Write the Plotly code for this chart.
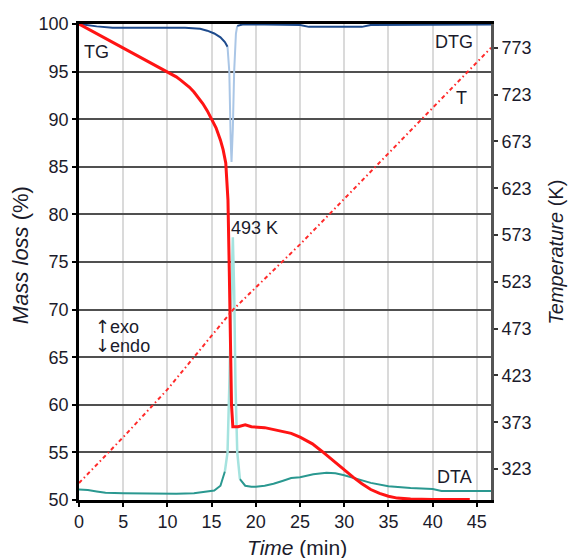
import numpy as np
import plotly.graph_objects as go

# ---- thermogravimetric data (time in min) ----
tg_time = [0, 0.5, 1, 2, 3, 4, 5, 6, 7, 8, 9, 10, 10.5, 11, 11.5, 12, 12.5, 13,
           13.5, 14, 14.5, 15, 15.5, 16, 16.3, 16.6, 16.85, 17.0, 17.1, 17.25,
           17.4, 18, 18.8, 19.5, 21, 22.7, 24, 25, 26.4, 27.5, 28.5, 30, 31, 32,
           33, 34, 35, 36, 37.5, 40, 44.2]
tg_mass = [100, 99.75, 99.5, 99.0, 98.5, 98.0, 97.5, 97.0, 96.5, 96.0, 95.5,
           95.0, 94.75, 94.45, 94.1, 93.75, 93.35, 92.85, 92.3, 91.65, 90.9,
           90.05, 89.1, 87.8, 86.8, 85.4, 81.5, 74, 66, 60, 57.7, 57.7, 57.9,
           57.7, 57.6, 57.3, 57.0, 56.6, 55.9, 55.1, 54.3, 53.2, 52.4, 51.7,
           51.1, 50.7, 50.4, 50.2, 50.1, 50.05, 50.05]

dtg_time = [0, 1, 2, 3.8, 8, 12, 13.7, 14.5, 15.3, 16, 16.5, 16.8, 17.0, 17.15,
            17.25, 17.4, 17.55, 17.75, 17.9, 18.5, 21, 25, 26, 32, 33, 40, 46.6]
dtg_value = [100, 99.85, 99.75, 99.6, 99.6, 99.6, 99.5, 99.3, 99.0, 98.6, 98.1,
             97.6, 95, 88, 85.5, 89, 95, 99, 99.8, 99.95, 99.95, 99.9, 99.7, 99.7,
             99.9, 99.95, 99.95]

dta_time = [0, 1, 2, 3, 5, 8, 11, 13, 14.5, 15.3, 16, 16.5, 16.8, 17.0, 17.2,
            17.4, 17.55, 17.7, 17.9, 18.2, 18.8, 19.5, 20, 21, 22, 23, 24, 25,
            26.5, 28, 29, 30, 31.4, 33, 35, 37.5, 40, 41, 43, 46.6]
dta_value = [51.1, 51.05, 50.9, 50.75, 50.7, 50.65, 50.65, 50.7, 50.85, 51.0,
             51.5, 53.0, 55, 62, 70, 77.6, 72, 62, 55, 52.2, 51.5, 51.4, 51.4,
             51.5, 51.7, 52.0, 52.3, 52.4, 52.7, 52.85, 52.8, 52.6, 52.2, 51.8,
             51.45, 51.25, 51.15, 50.95, 50.95, 50.95]

temp_time = [0, 5, 10, 17.4, 25, 35, 46.6]
temp_kelvin = [308, 357, 408, 493, 563, 660, 773]

mass_ticks = [50, 55, 60, 65, 70, 75, 80, 85, 90, 95, 100]
temp_ticks = [323, 373, 423, 473, 523, 573, 623, 673, 723, 773]
time_ticks = [0, 5, 10, 15, 20, 25, 30, 35, 40, 45]

FONT = "Liberation Sans, Arial, sans-serif"
INK = "#1b1b2b"


def split_peak(t, v, t0, t1):
    """Return (baseline, peak) copies of a curve; the steep peak part is drawn lighter."""
    t = np.asarray(t, float)
    v = np.asarray(v, float)
    inside = (t >= t0) & (t <= t1)
    base = v.copy()
    base[(t > t0) & (t < t1)] = np.nan
    return (t, base), (t[inside], v[inside])


fig = go.Figure()

# DTG (derivative) trace, baseline dark and the narrow peak pale
(dtg_bt, dtg_bv), (dtg_pt, dtg_pv) = split_peak(dtg_time, dtg_value, 16.8, 17.9)
fig.add_trace(go.Scatter(x=dtg_pt, y=dtg_pv, mode="lines",
                         line=dict(color="#aac6e6", width=2), hoverinfo="skip"))
fig.add_trace(go.Scatter(x=dtg_bt, y=dtg_bv, mode="lines", connectgaps=False,
                         line=dict(color="#1d4a8c", width=2), name="DTG"))

# DTA trace
(dta_bt, dta_bv), (dta_pt, dta_pv) = split_peak(dta_time, dta_value, 16.5, 18.2)
fig.add_trace(go.Scatter(x=dta_pt, y=dta_pv, mode="lines",
                         line=dict(color="#a5e3df", width=2.5), hoverinfo="skip"))
fig.add_trace(go.Scatter(x=dta_bt, y=dta_bv, mode="lines", connectgaps=False,
                         line=dict(color="#2a9890", width=2), name="DTA"))

# TG mass loss
fig.add_trace(go.Scatter(x=tg_time, y=tg_mass, mode="lines",
                         line=dict(color="#ff1414", width=3), name="TG"))

# furnace temperature on the right axis
fig.add_trace(go.Scatter(x=temp_time, y=temp_kelvin, mode="lines", yaxis="y2",
                         line=dict(color="#ff2a2a", width=2, dash="4px,3px,1.5px,3px"),
                         name="T"))

TICK = dict(size=18, color=INK)
fig.update_layout(
    width=569, height=558,
    margin=dict(l=79, r=78, t=24, b=58),
    paper_bgcolor="white", plot_bgcolor="white",
    showlegend=False,
    font=dict(family=FONT, size=18, color=INK),
    xaxis=dict(range=[0, 46.6], tickvals=time_ticks, ticks="outside", ticklen=4,
               tickwidth=1.5, tickcolor="black", showline=True, linecolor="black",
               linewidth=2.5, mirror=True, showgrid=True, gridcolor="#dadada",
               gridwidth=2, zeroline=False, tickfont=TICK),
    yaxis=dict(range=[50, 100], tickvals=mass_ticks, ticks="outside", ticklen=4,
               tickwidth=1.5, tickcolor="black", showline=True, linecolor="black",
               linewidth=2.5, showgrid=True, gridcolor="#505050", gridwidth=1.5,
               zeroline=False, tickfont=TICK),
    yaxis2=dict(range=[289.9, 798.4], tickvals=temp_ticks, overlaying="y",
                side="right", ticks="outside", ticklen=4, tickwidth=1.5,
                tickcolor="#333", showline=True, linecolor="#555", linewidth=3,
                showgrid=False, zeroline=False, tickfont=TICK),
)

ARROW = '<span style="font-family:DejaVu Sans">{}</span>'
label_font = dict(family=FONT, size=18, color=INK)
notes = [
    dict(x=0.3, y=97.1, text="TG", xanchor="left"),
    dict(x=44.8, y=98.1, text="DTG", xanchor="right"),
    dict(x=43.3, y=92.2, text="T", xanchor="center"),
    dict(x=44.7, y=52.4, text="DTA", xanchor="right"),
    dict(x=17.0, y=78.6, text="493 K", xanchor="left"),
    dict(x=1.6, y=68.2, text=ARROW.format("↑") + "exo", xanchor="left"),
    dict(x=1.6, y=66.2, text=ARROW.format("↓") + "endo", xanchor="left"),
]
for n in notes:
    fig.add_annotation(x=n["x"], y=n["y"], text=n["text"], xref="x", yref="y",
                       xanchor=n["xanchor"], yanchor="middle", showarrow=False,
                       font=label_font)

fig.add_annotation(x=0.529, y=-0.099, xref="paper", yref="paper",
                   text="<i>Time</i> (min)", showarrow=False,
                   font=dict(family=FONT, size=21, color=INK),
                   xanchor="center", yanchor="middle")
fig.add_annotation(x=-0.14, y=0.515, xref="paper", yref="paper",
                   text="<i>Mass loss</i> (%)", showarrow=False,
                   font=dict(family=FONT, size=22, color=INK),
                   textangle=-90, xanchor="center", yanchor="middle")
fig.add_annotation(x=1.158, y=0.52, xref="paper", yref="paper",
                   text="<i>Temperature</i> (K)", showarrow=False,
                   font=dict(family=FONT, size=20, color=INK),
                   textangle=-90, xanchor="center", yanchor="middle")

fig.write_html("out.html")
